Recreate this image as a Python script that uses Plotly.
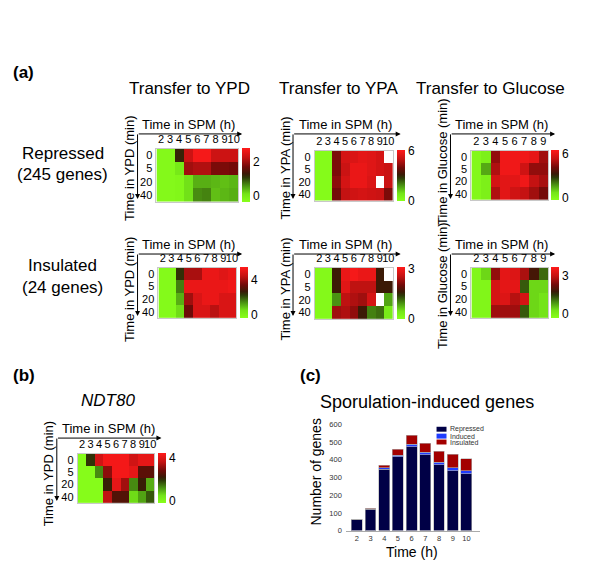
import plotly.graph_objects as go

W, H = 600, 574
def X(p): return p / W
def Y(p): return 1 - p / H

FONT = "Liberation Sans"

# ---------------- data ----------------
spm_hours = [2, 3, 4, 5, 6, 7, 8, 9, 10]
spm_hours_glc = [2, 3, 4, 5, 6, 7, 8, 9]
transfer_minutes = ["0", "5", "20", "40"]
NA = None

rep_ypd = [
    [-0.3, -0.3, 1.2, 2.3, 2.7, 2.7, 2.3, 2.3, 2.3],
    [-0.3, -0.3, 0.0, 2.0, 2.1, 2.1, 1.75, 1.75, 1.7],
    [-0.3, -0.3, -0.25, 0.1, 0.4, 0.4, 0.35, 0.3, 0.35],
    [-0.3, -0.3, -0.25, 0.1, 0.6, 0.65, 0.3, 0.35, 0.4],
]
rep_ypa = [
    [0.1, 0.1, 4.1, 5.3, 5.4, 5.6, 5.5, 5.3, NA],
    [0.1, 0.1, 4.1, 5.1, 5.7, 5.7, 5.5, 5.3, 5.1],
    [0.1, 0.1, 4.3, 5.3, 5.7, 5.7, 5.4, NA, 5.1],
    [0.1, 0.1, 4.0, 5.0, 5.2, 5.3, 5.2, 5.1, 4.1],
]
rep_glc = [
    [0.0, 0.3, 4.6, 6.2, 6.2, 6.2, 6.0, 4.8],
    [0.0, 1.5, 5.0, 6.2, 6.2, 5.5, 4.6, 4.6],
    [0.0, 0.3, 5.6, 5.9, 5.9, 6.2, 5.3, 4.9],
    [0.0, 0.3, 5.0, 5.9, 5.5, 5.3, 4.8, 4.2],
]
ins_ypd = [
    [-0.3, -0.3, 2.3, 4.0, 4.0, 5.0, 5.0, 4.8, 5.0],
    [-0.3, -0.3, 1.5, 5.0, 5.0, 5.0, 5.0, 5.0, 5.1],
    [-0.3, -0.3, 1.0, 3.9, 4.7, 5.0, 5.0, 4.7, 4.7],
    [-0.3, -0.3, 0.5, 3.3, 4.7, 4.7, 4.2, 4.7, 4.7],
]
ins_ypa = [
    [0.05, 0.05, 1.6, 2.9, 3.0, 2.9, 2.9, 1.6, NA],
    [0.05, 0.05, 1.6, 2.8, 2.5, 2.5, 2.5, 1.6, 1.6],
    [0.05, 0.05, 0.9, 2.5, 2.4, 2.3, 2.7, NA, 0.8],
    [0.05, 0.05, 2.3, 2.4, 2.2, 1.6, 1.0, 1.1, 0.3],
]
ins_glc = [
    [-0.2, 0.3, 2.5, 3.3, 3.2, 2.7, 1.8, 1.1],
    [-0.2, -0.2, 3.1, 3.3, 3.3, 1.2, 0.3, 0.3],
    [-0.2, -0.2, 3.1, 3.2, 2.8, 3.1, 0.3, 0.2],
    [-0.2, -0.2, 2.6, 2.6, 2.6, 1.2, 0.3, 0.2],
]
ndt80 = [
    [-0.2, 1.9, 3.7, 4.2, 4.2, 4.2, 3.7, 4.0, 4.0],
    [-0.2, -0.2, 1.2, 3.0, 4.2, 4.2, 4.0, 2.5, 2.5],
    [-0.2, -0.2, -0.2, 2.1, 4.0, 3.2, 1.2, 2.1, 0.9],
    [-0.2, -0.2, -0.2, 3.5, 2.4, 2.4, 0.5, 1.0, 1.6],
]

bar_hours = [2, 3, 4, 5, 6, 7, 8, 9, 10]
repressed = [63, 120, 346, 417, 472, 428, 372, 337, 320]
induced = [2, 2, 8, 9, 15, 13, 15, 17, 17]
insulated = [0, 4, 16, 33, 50, 53, 61, 77, 68]
series_names = ["Repressed", "Induced", "Insulated"]
series_colors = ["#000046", "#1f3cff", "#a30000"]
bar_ticks = [0, 100, 200, 300, 400, 500, 600]

# ---------------- style ----------------
cscale = [
    [0.0, "#88ff1a"], [0.15, "#74e418"], [0.3, "#4a9412"], [0.45, "#2d3a08"],
    [0.52, "#3a1a06"], [0.65, "#700a08"], [0.82, "#c41212"], [1.0, "#ff1a1a"],
]

# z, x, (x0,x1) px, (y0,y1) px, zmin, zmax, top tick, cbar x px
panels = [
    (rep_ypd, spm_hours, (157, 239), (147, 201), -0.4, 2.8, 2, 243),
    (rep_ypa, spm_hours, (316, 394), (149, 200), -0.05, 6.1, 6, 398),
    (rep_glc, spm_hours_glc, (473, 550), (149, 199), -0.27, 6.5, 6, 553),
    (ins_ypd, spm_hours, (159, 237), (268, 319), -0.46, 5.37, 4, 241),
    (ins_ypa, spm_hours, (316, 394), (268, 320), -0.05, 3.1, 3, 398),
    (ins_glc, spm_hours_glc, (473, 550), (268, 319), -0.4, 3.63, 3, 553),
    (ndt80, spm_hours, (78, 155), (457, 507), -0.27, 4.36, 4, 159),
]

fig = go.Figure()
layout_axes = {}

for i, (z, xs, (x0, x1), (y0, y1), zmin, zmax, top, cbx) in enumerate(panels):
    n = i + 1
    xa = "x" if n == 1 else f"x{n}"
    ya = "y" if n == 1 else f"y{n}"
    fig.add_trace(go.Heatmap(
        z=z, x=xs, y=transfer_minutes, xaxis=xa, yaxis=ya,
        colorscale=cscale, zmin=zmin, zmax=zmax, hoverongaps=False,
        colorbar=dict(
            x=X(cbx), xanchor="left", xpad=0, ypad=0,
            y=Y((y0 + y1) / 2), yanchor="middle",
            len=(y1 - y0), lenmode="pixels",
            thickness=8, thicknessmode="pixels",
            outlinewidth=0, ticks="", tickvals=[0, top],
            ticktext=["0", str(top)],
            tickfont=dict(family=FONT, size=12, color="black"),
        ),
    ))
    layout_axes[f"xaxis{n}"] = dict(
        domain=[X(x0), X(x1)], anchor=ya, side="top",
        tickmode="array", tickvals=xs, ticktext=[str(v) for v in xs],
        tickangle=0,
        range=[xs[0] - 0.5, xs[-1] + 0.5],
        tickfont=dict(family=FONT, size=11, color="black"),
        showgrid=False, zeroline=False, ticks="",
        showline=True, linecolor="#c8c8c8", linewidth=1, mirror=True,
        ticklabelstandoff=0,
        fixedrange=True,
    )
    layout_axes[f"yaxis{n}"] = dict(
        domain=[Y(y1), Y(y0)], anchor=xa, type="category",
        tickmode="array", tickvals=transfer_minutes, ticktext=transfer_minutes,
        autorange="reversed",
        tickfont=dict(family=FONT, size=11, color="black"),
        showgrid=False, zeroline=False, ticks="",
        showline=True, linecolor="#c8c8c8", linewidth=1, mirror=True,
        ticklabelstandoff=1,
        fixedrange=True,
    )

# bar chart
for name, vals, col in zip(series_names, [repressed, induced, insulated], series_colors):
    fig.add_trace(go.Bar(
        x=bar_hours, y=vals, name=name, xaxis="x8", yaxis="y8",
        marker=dict(color=col, line=dict(color="#b0b0b0", width=0.6)),
        showlegend=False,
    ))

layout_axes["xaxis8"] = dict(
    domain=[X(347), X(482)], anchor="y8", range=[1.2, 11.02],
    tickmode="array", tickvals=bar_hours, ticktext=[str(h) for h in bar_hours],
    tickangle=0,
    tickfont=dict(family=FONT, size=7.5, color="#333"),
    showgrid=False, zeroline=False, ticks="",
    showline=True, linecolor="#aaaaaa", linewidth=1,
    fixedrange=True,
)
layout_axes["yaxis8"] = dict(
    domain=[Y(535), Y(427)], anchor="x8", range=[0, 600],
    tickmode="array", tickvals=bar_ticks, ticktext=[str(t) for t in bar_ticks],
    tickfont=dict(family=FONT, size=7.5, color="#333"),
    showgrid=False, zeroline=False, ticks="", showline=False,
    ticklabelstandoff=3,
    fixedrange=True,
)

annotations = []
shapes = []

def text(s, x, y, size, **kw):
    d = dict(text=s, x=X(x), y=Y(y), xref="paper", yref="paper",
             showarrow=False, xanchor=kw.pop("xanchor", "center"),
             yanchor=kw.pop("yanchor", "middle"),
             font=dict(family=FONT, size=size, color="black"))
    d.update(kw)
    annotations.append(d)

def arrow(hx, hy, tx, ty):
    annotations.append(dict(
        x=X(hx), y=Y(hy), xref="paper", yref="paper", text="",
        showarrow=True, ax=tx - hx, ay=ty - hy, axref="pixel", ayref="pixel",
        arrowhead=2, arrowsize=1, arrowwidth=1, arrowcolor="black",
        standoff=0, startstandoff=0,
    ))

# panel labels
text("<b>(a)</b>", 24, 70, 17)
text("<b>(b)</b>", 24, 377, 17)
text("<b>(c)</b>", 312, 377, 17)

# column titles
text("Transfer to YPD", 190, 86, 17)
text("Transfer to YPA", 340, 86, 17)
text("Transfer to Glucose", 492, 86, 17)

# row titles
text("Repressed", 63, 152, 17)
text("(245 genes)", 63, 173, 17)
text("Insulated", 63, 266, 17)
text("(24 genes)", 63, 288, 17)

# axis arrows and labels for each heatmap
frames = [
    (138, 132, 243, 198, "Time in YPD (min)", 167),
    (294, 132, 402, 198, "Time in YPA (min)", 167),
    (452, 132, 557, 198, "Time in Glucose (min)", 160),
    (138, 254, 243, 317, "Time in YPD (min)", 290),
    (294, 254, 402, 317, "Time in YPA (min)", 290),
    (452, 254, 557, 317, "Time in Glucose (min)", 286),
    (57, 441, 162, 505, "Time in YPD (min)", 477),
]
for cx, cy, hx, vy, vlab, vyc in frames:
    arrow(hx, cy, cx, cy)
    arrow(cx, vy, cx, cy)
    text("Time in SPM (h)", (cx + hx) / 2 - 1, cy - 10, 13)
    text(vlab, cx - 8, vyc, 13, textangle=-90)

# NDT80 title
text("<i>NDT80</i>", 108, 403, 17)

# bar chart labels
text("Sporulation-induced genes", 428, 404, 18)
text("Number of genes", 317, 475, 14, textangle=-90)
text("Time (h)", 413, 557, 14)

# manual legend for bar chart
leg_rows = [432, 439, 445]
for name, col, ly in zip(series_names, series_colors, leg_rows):
    shapes.append(dict(type="rect", xref="paper", yref="paper",
                       x0=X(438), x1=X(448), y0=Y(ly + 2.5), y1=Y(ly - 2.5),
                       fillcolor=col, line=dict(width=0)))
    text(name, 449, ly, 7, xanchor="left", font=dict(family=FONT, size=7, color="#333"))

fig.update_layout(
    width=W, height=H, margin=dict(l=0, r=0, t=0, b=0),
    paper_bgcolor="white", plot_bgcolor="white",
    barmode="stack", bargap=0.2,
    showlegend=False, hovermode=False,
    annotations=annotations, shapes=shapes,
    font=dict(family=FONT, color="black"),
    **layout_axes,
)

fig.write_html("out.html", config={"displayModeBar": False},
               post_script="document.body.style.margin='0px';")
